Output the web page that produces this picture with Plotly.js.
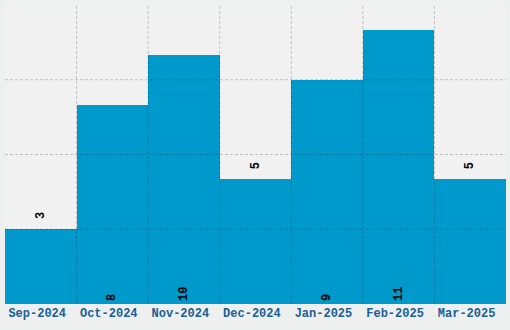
<!DOCTYPE html>
<html><head><meta charset="utf-8">
<script src="https://cdn.plot.ly/plotly-3.0.1.min.js"></script>
<style>html,body{margin:0;padding:0;background:#eef0f0;}</style>
</head><body><div id="chart" style="width:510px;height:330px;"></div>
<script>
const months = ["Sep-2024","Oct-2024","Nov-2024","Dec-2024","Jan-2025","Feb-2025","Mar-2025"];
const counts = [3, 8, 10, 5, 9, 11, 5];
const labelPos = ["outside","inside","inside","outside","inside","inside","outside"];

const NB = "\u00a0";
const idx = months.map((m,i)=>i);
const xr = [-0.5, months.length - 0.5];
const yr = [0, 12];
const ydt = 3;

const trace = {
  type: "bar",
  x: idx, y: counts,
  width: 1,
  marker: {color: "#0099cc", line: {width: 0}},
  text: counts.map((c,i)=> labelPos[i]==="outside" ? NB + c : String(c)),
  textposition: labelPos,
  textangle: -90,
  insidetextanchor: "start",
  textfont: {family: "Liberation Mono, monospace", size: 12, color: "#000", weight: "bold"},
  cliponaxis: false,
  hoverinfo: "none"
};

// grid lines drawn above bars
const gx = [], gy = [];
for (let i = 1; i < months.length; i++) { gx.push(i-0.5, i-0.5, null); gy.push(yr[0], yr[1], null); }
for (let v = ydt; v < yr[1]; v += ydt) { gx.push(xr[0], xr[1], null); gy.push(v, v, null); }
const grid = {
  type: "scatter", mode: "lines", x: gx, y: gy,
  line: {color: "rgba(0,0,0,0.2)", width: 1, dash: "3px,2px"},
  hoverinfo: "none", showlegend: false, cliponaxis: true
};

const layout = {
  width: 510, height: 330,
  margin: {l:5, r:4, t:5, b:26},
  paper_bgcolor: "#eef0f0",
  plot_bgcolor: "#f1f1f1",
  showlegend: false,
  bargap: 0,
  xaxis: {
    range: xr, tickvals: idx, ticktext: months.map(m => m + NB),
    showgrid: false, zeroline: false, ticks: "",
    tickfont: {family: "Liberation Mono, monospace", size: 12, color: "#1a5f96", weight: "bold"},
    fixedrange: true
  },
  yaxis: {
    range: yr, showticklabels: false, showgrid: false,
    zeroline: false, ticks: ""
  }
};
Plotly.newPlot("chart", [trace, grid], layout, {displayModeBar:false, staticPlot:true});
</script></body></html>
